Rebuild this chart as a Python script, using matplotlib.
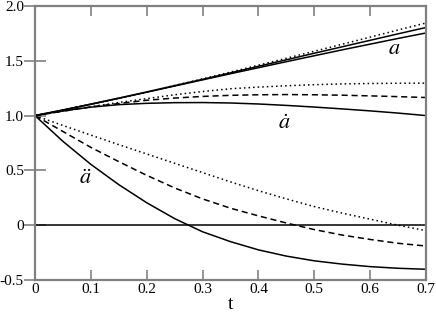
import matplotlib
matplotlib.use("Agg")
import matplotlib.pyplot as plt

t = [0.0, 0.05, 0.1, 0.15, 0.2, 0.25, 0.3, 0.35, 0.4, 0.45, 0.5, 0.55, 0.6, 0.65, 0.7]

# scale factor a
a_solid = [1.0, 1.051, 1.104, 1.158, 1.214, 1.27, 1.326, 1.382, 1.437, 1.492, 1.546, 1.6, 1.652, 1.704, 1.754]
a_mid = [1.0, 1.051, 1.104, 1.159, 1.215, 1.273, 1.331, 1.39, 1.45, 1.509, 1.569, 1.628, 1.687, 1.746, 1.804]
a_dotted = [1.0, 1.051, 1.104, 1.159, 1.216, 1.275, 1.335, 1.397, 1.46, 1.523, 1.587, 1.651, 1.716, 1.781, 1.845]

# first derivative
ad_solid = [1.0, 1.044, 1.077, 1.100, 1.112, 1.118, 1.119, 1.115, 1.106, 1.093, 1.078, 1.061, 1.043, 1.023, 1.0]
ad_dashed = [1.0, 1.04, 1.08, 1.11, 1.14, 1.16, 1.175, 1.185, 1.19, 1.192, 1.19, 1.186, 1.18, 1.173, 1.165]
ad_dotted = [1.0, 1.04, 1.08, 1.12, 1.155, 1.19, 1.22, 1.245, 1.26, 1.272, 1.282, 1.289, 1.293, 1.295, 1.296]

# second derivative
add_solid = [1.0, 0.765, 0.555, 0.37, 0.205, 0.06, -0.06, -0.15, -0.225, -0.282, -0.325, -0.355, -0.378, -0.393, -0.402]
add_dashed = [1.0, 0.855, 0.71, 0.58, 0.455, 0.34, 0.24, 0.155, 0.085, 0.02, -0.04, -0.09, -0.13, -0.165, -0.19]
add_dotted = [1.0, 0.91, 0.822, 0.735, 0.65, 0.565, 0.48, 0.395, 0.315, 0.24, 0.17, 0.11, 0.055, 0.0, -0.05]

xticks = [0, 0.1, 0.2, 0.3, 0.4, 0.5, 0.6, 0.7]
xticklabels = ["0", "0.1", "0.2", "0.3", "0.4", "0.5", "0.6", "0.7"]
yticks = [-0.5, 0, 0.5, 1.0, 1.5, 2.0]
yticklabels = ["-0.5", "0", "0.5", "1.0", "1.5", "2.0"]

plt.rcParams['font.family'] = 'serif'
plt.rcParams['font.serif'] = ['Liberation Serif', 'DejaVu Serif']
plt.rcParams['mathtext.fontset'] = 'stix'

fig = plt.figure(figsize=(4.36, 3.18), dpi=100)
ax = fig.add_axes([35/436, (318-280)/318, (426-35)/436, (280-6)/318])

lw = 1.1
ax.axhline(0, color='black', lw=lw)
ax.plot(t, a_solid, color='black', lw=lw, ls='-')
ax.plot(t, a_mid, color='black', lw=lw, ls='-')
ax.plot(t, a_dotted, color='black', lw=lw, ls=(0, (1, 2)))
ax.plot(t, ad_solid, color='black', lw=lw, ls='-')
ax.plot(t, ad_dashed, color='black', lw=lw, ls=(0, (4, 2.5)))
ax.plot(t, ad_dotted, color='black', lw=lw, ls=(0, (1, 2)))
ax.plot(t, add_solid, color='black', lw=lw, ls='-')
ax.plot(t, add_dashed, color='black', lw=lw, ls=(0, (4, 2.5)))
ax.plot(t, add_dotted, color='black', lw=lw, ls=(0, (1, 2)))

ax.text(0.643, 1.60, r'$a$', fontsize=16, ha='center', va='center')
ax.text(0.446, 0.915, r'$\dot{a}$', fontsize=16, ha='center', va='center')
ax.text(0.0895, 0.42, r'$\ddot{a}$', fontsize=16, ha='center', va='center')

ax.set_xlim(0, 0.7)
ax.set_ylim(-0.5, 2.0)
ax.set_xticks(xticks)
ax.set_xticklabels(xticklabels)
ax.set_yticks(yticks)
ax.set_yticklabels(yticklabels)
ax.set_xlabel('t', fontsize=14, labelpad=0)

for s in ax.spines.values():
    s.set_color('#808080')
    s.set_linewidth(1.6)

ax.tick_params(axis='x', direction='in', length=7, width=1.2, color='#808080',
               top=True, bottom=True, labelsize=11, pad=2)
ax.tick_params(axis='y', direction='inout', length=16, width=1.2, color='#808080',
               left=True, right=False, labelsize=11, pad=0)

fig.savefig('out.png', dpi=100)
